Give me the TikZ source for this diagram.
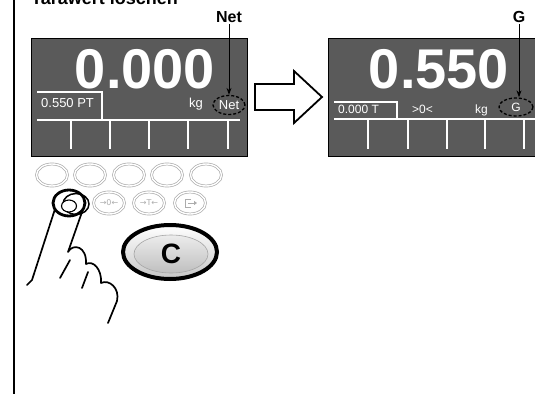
\documentclass[tikz,border=0pt]{standalone}
\usepackage{fontspec}
\setsansfont{Liberation Sans}
\newfontfamily\keyfont{DejaVu Sans}
\usepackage{xcolor}
\usetikzlibrary{shapes.geometric,arrows.meta}
\definecolor{scrgray}{RGB}{90,90,90}
\definecolor{keygray}{RGB}{172,172,172}

\begin{document}
\begin{tikzpicture}[x=1pt,y=-1pt,font=\sffamily]
    % Styles for screens, keys and lines
    \tikzset{
      screen/.style={rectangle, draw=black, line width=1, fill=scrgray, minimum width=216, minimum height=118, inner sep=0},
      bigdigits/.style={text=white, font=\sffamily\bfseries\fontsize{56}{56}\selectfont, inner sep=0, anchor=base, text height=40pt, text depth=0pt},
      lcdtext/.style={text=white, font=\sffamily\fontsize{13}{13}\selectfont, inner sep=0, anchor=base west},
      ringmark/.style={ellipse, draw=black, line width=1.3, dash pattern=on 3pt off 2pt, inner sep=0, text=white, font=\sffamily\fontsize{13}{13}\selectfont, minimum width=32, minimum height=19},
      callout/.style={font=\sffamily\bfseries\fontsize{16}{16}\selectfont, inner sep=1},
      pointer/.style={line width=1, -{Stealth[length=7,width=5]}},
      softkey/.style={white, line width=1.3},
      button/.style={ellipse, draw=keygray, double=white, double distance=1.4, line width=0.7, minimum width=31, minimum height=22, inner sep=0, text=keygray, font=\keyfont\fontsize{8}{8}\selectfont},
      finger/.style={line width=1.7, line cap=round, line join=round}
    }
    \useasboundingbox (0,0) rectangle (535,394);
    \clip (0,0) rectangle (535,394);

    % Frame and heading
    \draw[line width=2] (14,0) -- (14,394);
    \node[anchor=base west, font=\sffamily\bfseries\fontsize{18}{18}\selectfont, inner sep=0] (title) at (31,4) {Tarawert löschen};

    % Screen before
    \node[screen] (scrA) at (139,97) {};
    \node[bigdigits] (valA) at (145,88) {0.000};
    \draw[softkey] (37,92) -- (102,92) -- (102,120);
    \draw[softkey] (37,120) -- (240,120);
    \foreach \x in {71,110,149,188,228}
      \draw[softkey] (\x,120) -- (\x,149);
    \node[lcdtext] (tareA) at (41,107) {0.550 PT};
    \node[lcdtext] (unitA) at (189,107) {kg};
    \node[ringmark] (netring) at (229,105) {Net};
    \node[callout] (netlbl) at (229,17) {Net};
    \draw[pointer] (netlbl.south) -- (netring.north);

    % Screen after
    \node[screen] (scrB) at (436,97) {};
    \node[bigdigits] (valB) at (439,88) {0.550};
    \draw[softkey] (334,102) -- (397,102) -- (397,119);
    \draw[softkey] (334,119) -- (540,119);
    \foreach \x in {368,408,447,485,524}
      \draw[softkey] (\x,119) -- (\x,149);
    \node[lcdtext, font=\sffamily\fontsize{12}{12}\selectfont] (tareB) at (338,113.5) {0.000 T};
    \node[lcdtext, font=\sffamily\fontsize{12}{12}\selectfont] (zeroB) at (412,113.5) {>0<};
    \node[lcdtext, font=\sffamily\fontsize{12}{12}\selectfont] (unitB) at (475,113.5) {kg};
    \node[ringmark, minimum width=34, minimum height=18, font=\sffamily\fontsize{12}{12}\selectfont] (gring) at (516,107) {G};
    \node[callout] (glbl) at (519,17) {G};
    \draw[pointer] (glbl.south) -- (glbl.south |- gring.north);

    % Hollow arrow between the screens
    \draw[line width=1.8, fill=white, line join=miter] (255,84) -- (294,84) -- (294,71) -- (322,97) -- (294,123) -- (294,110) -- (255,110) -- cycle;

    % Keypad
    \foreach \x [count=\i] in {52,90,129,167,206}
      \node[button] (fkey\i) at (\x,175) {};
    \node[button] (zerokey) at (109,203) {→0←};
    \node[button] (tarekey) at (149,203) {→T←};
    \node[button] (printkey) at (190,203) {};
    \draw[keygray, line width=0.9] ([shift={(1,-4)}]printkey.center) -| ([shift={(-5,4)}]printkey.center) -- ++(6,0);
    \draw[keygray, line width=0.9, -{Triangle[length=3,width=4]}] ([xshift=-2]printkey.center) -- ([xshift=7]printkey.center);

    % Big clear key
    \node[ellipse, draw=black, line width=4, top color=white, bottom color=gray!45, minimum width=94, minimum height=54] (clearkey) at (170,252) {};
    \node[ellipse, draw=gray!70, line width=0.6, top color=gray!15, bottom color=gray!50, minimum width=74, minimum height=38, text=black, font=\sffamily\bfseries\fontsize{28}{28}\selectfont] (clearcap) at (171,254) {C};

    % Pressed key and hand
    \node[ellipse, draw=black, line width=2.8, minimum width=32, minimum height=26] (pressed) at (69,203) {};
    \node[ellipse, draw=black, line width=1.5, minimum width=26, minimum height=21] (pressring) at (76,204) {};
    \draw[finger] (55,209) -- (32,280) -- (27,285);
    \draw[finger] (82,212) -- (68,252) .. controls (73,243) and (87,246) .. (86,264) .. controls (93,260) and (102,269) .. (101,283) .. controls (109,279) and (120,288) .. (117,301) -- (108,323);
    \draw[finger] (70,260) -- (60,278);
    \draw[finger] (88,272) -- (82,288);
    \node[ellipse, draw=black, fill=white, line width=1.1, minimum width=15, minimum height=12, inner sep=0] (tip) at (69,206) {};

\end{tikzpicture}
\end{document}
